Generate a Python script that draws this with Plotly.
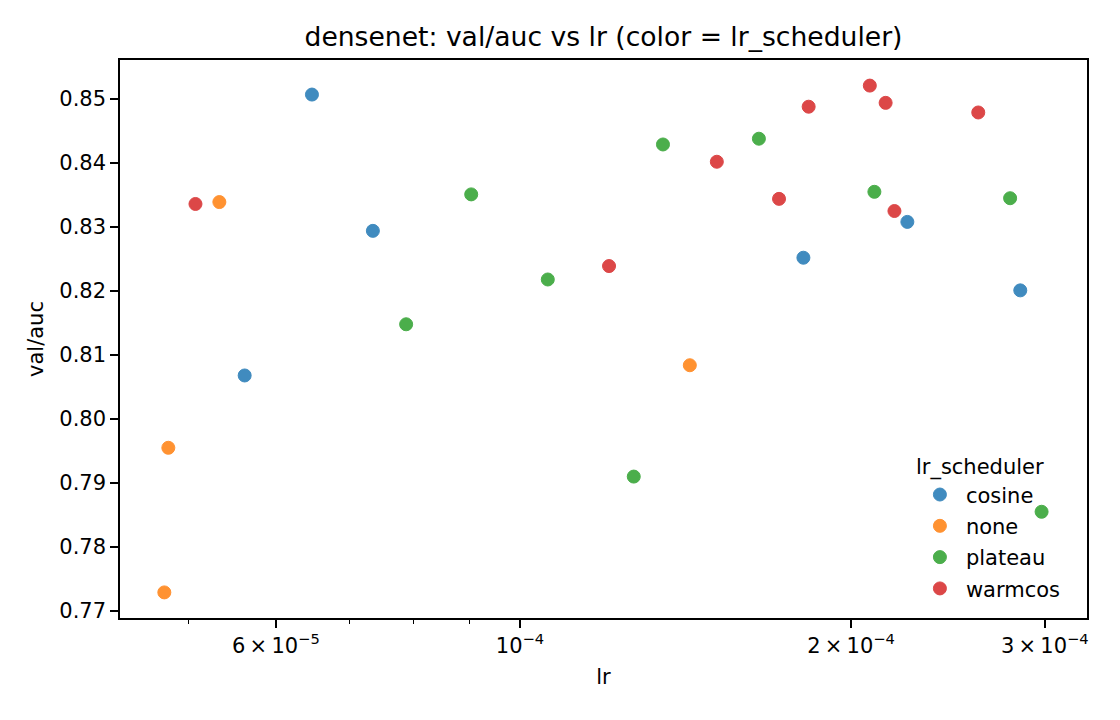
import plotly.graph_objects as go

# lr_scheduler groups: learning rate and val/auc
cosine_lr = [6.47e-5, 7.35e-5, 5.62e-5, 1.81e-4, 2.25e-4, 2.85e-4]
cosine_auc = [0.8507, 0.8294, 0.8068, 0.8252, 0.8308, 0.8201]

none_lr = [4.79e-5, 4.75e-5, 5.33e-5, 1.427e-4]
none_auc = [0.7955, 0.7729, 0.8339, 0.8084]

plateau_lr = [9.03e-5, 7.88e-5, 1.06e-4, 1.269e-4, 1.349e-4, 1.649e-4, 2.10e-4, 2.79e-4, 2.98e-4]
plateau_auc = [0.8351, 0.8148, 0.8218, 0.7910, 0.8429, 0.8438, 0.8355, 0.8345, 0.7855]

warmcos_lr = [5.07e-5, 1.205e-4, 1.51e-4, 1.72e-4, 1.83e-4, 2.08e-4, 2.15e-4, 2.19e-4, 2.61e-4]
warmcos_auc = [0.8336, 0.8239, 0.8402, 0.8344, 0.8488, 0.8521, 0.8494, 0.8325, 0.8479]

x_tickvals = [6e-5, 1e-4, 2e-4, 3e-4]
x_ticktext = ["6\u2009×\u200910<sup>−5</sup>", "10<sup>−4</sup>",
              "2\u2009×\u200910<sup>−4</sup>", "3\u2009×\u200910<sup>−4</sup>"]
x_minor = [5e-5, 7e-5, 8e-5, 9e-5]
y_tickvals = [0.77, 0.78, 0.79, 0.80, 0.81, 0.82, 0.83, 0.84, 0.85]

groups = [
    ("cosine", cosine_lr, cosine_auc, "#1f77b4"),
    ("none", none_lr, none_auc, "#ff7f0e"),
    ("plateau", plateau_lr, plateau_auc, "#2ca02c"),
    ("warmcos", warmcos_lr, warmcos_auc, "#d62728"),
]

fig = go.Figure()
for name, xs, ys, color in groups:
    fig.add_trace(go.Scatter(
        x=xs, y=ys, mode="markers", name=name, legendgroup=name,
        marker=dict(color=color, size=13, opacity=0.85,
                    line=dict(color=color, width=1)),
    ))

font = "DejaVu Sans"
# page body adds an 8px offset, margins compensate for it
fig.update_layout(
    width=1120, height=720,
    paper_bgcolor="white", plot_bgcolor="white",
    margin=dict(l=112, r=41, t=52, b=110),
    font=dict(family=font, size=21, color="black"),
    title=dict(text="densenet: val/auc vs lr (color = lr_scheduler)",
               x=0.5, xref="paper", xanchor="center", y=0.96, yanchor="middle",
               font=dict(size=26.6, family=font, color="black")),
    legend=dict(
        title=dict(text="lr_scheduler", font=dict(size=21)),
        x=0.821, y=0.016, xanchor="left", yanchor="bottom",
        bgcolor="rgba(0,0,0,0)", tracegroupgap=1, itemwidth=42,
        font=dict(size=21),
    ),
)

fig.update_xaxes(
    type="log", range=[-4.3636, -3.4845],
    tickvals=x_tickvals, ticktext=x_ticktext,
    ticks="outside", ticklen=8, tickwidth=1.5, tickcolor="black",
    minor=dict(tickvals=x_minor, ticks="outside", ticklen=4.5, tickwidth=1.2, tickcolor="black"),
    showline=True, linecolor="black", linewidth=1.5, mirror=True,
    showgrid=False, zeroline=False,
    title=dict(text="lr", font=dict(size=21), standoff=12),
    tickfont=dict(size=21),
)
fig.update_yaxes(
    range=[0.7689, 0.8561],
    tickvals=y_tickvals, tickformat=".2f",
    ticks="outside", ticklen=8, tickwidth=1.5, tickcolor="black",
    showline=True, linecolor="black", linewidth=1.5, mirror=True,
    showgrid=False, zeroline=False,
    title=dict(text="val/auc", font=dict(size=21), standoff=10),
    tickfont=dict(size=21),
)

fig.write_html("out.html")
